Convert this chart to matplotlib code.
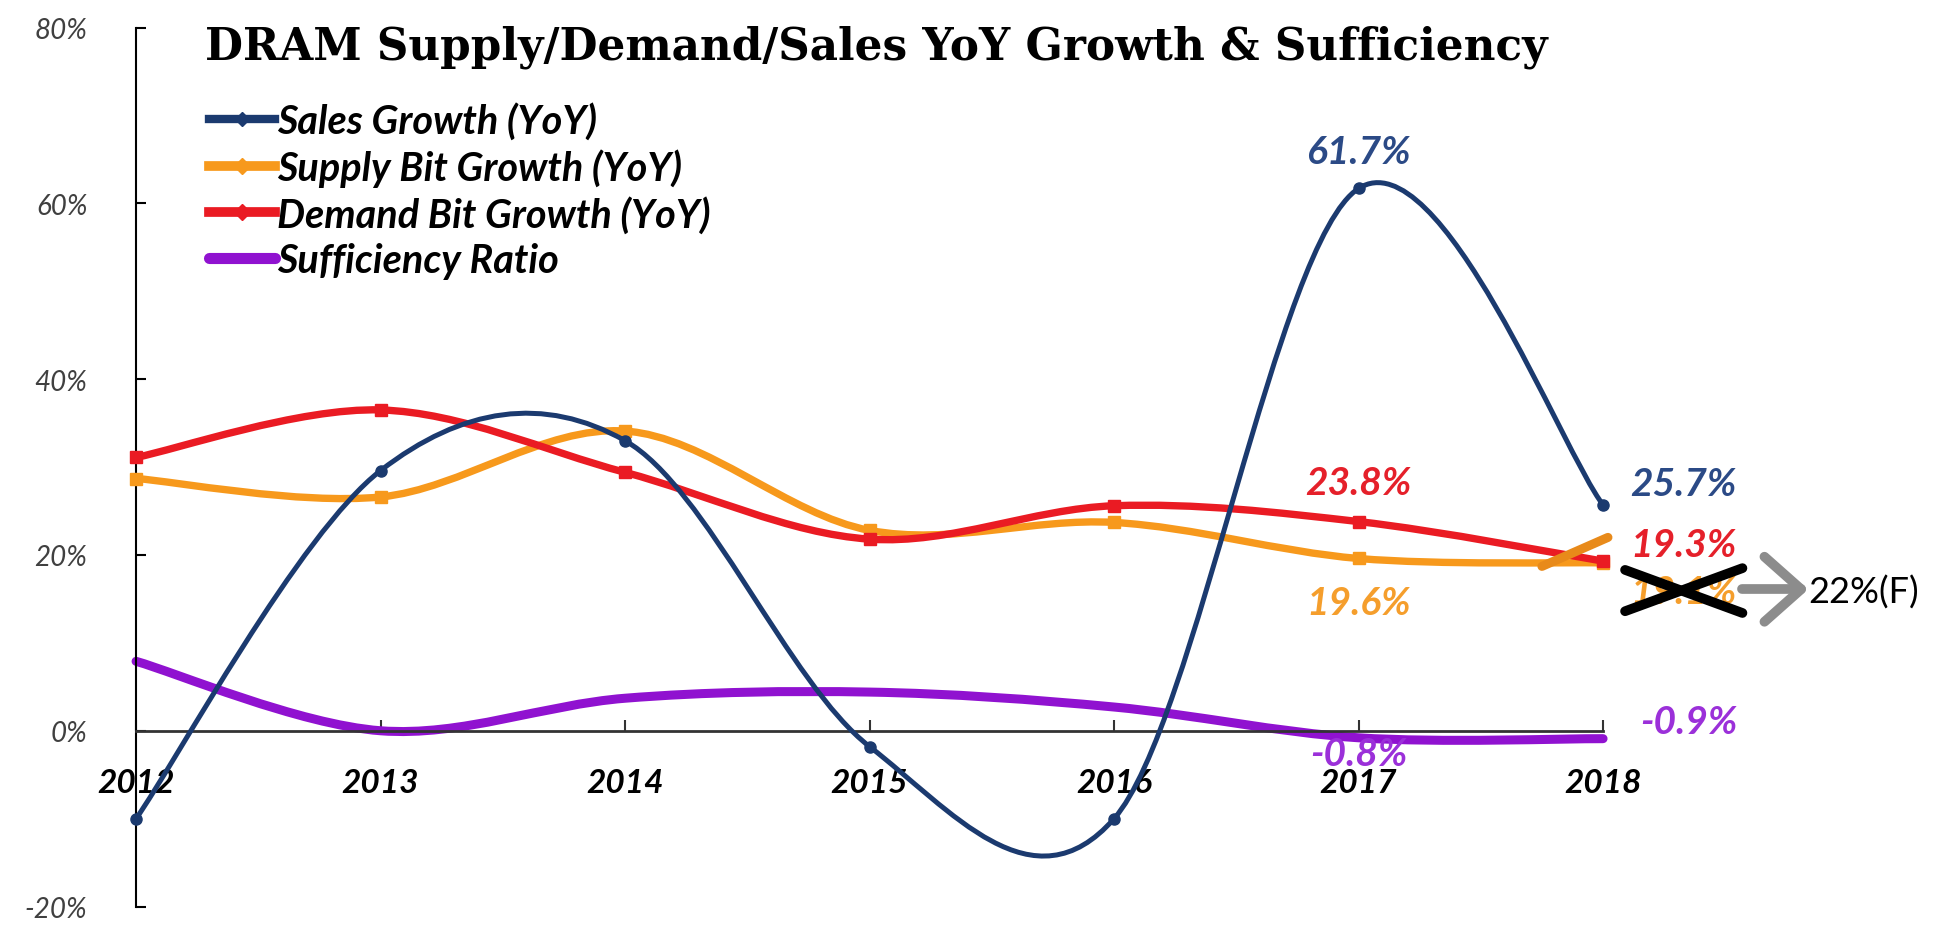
import numpy as np
import matplotlib.pyplot as plt
from matplotlib.path import Path
from matplotlib.patches import PathPatch
from matplotlib.lines import Line2D

years = [2012, 2013, 2014, 2015, 2016, 2017, 2018]
sales_growth = [-10.0, 29.6, 33.0, -1.8, -10.0, 61.7, 25.7]
supply_growth = [28.7, 26.6, 34.1, 22.8, 23.7, 19.6, 19.1]
demand_growth = [31.1, 36.5, 29.4, 21.8, 25.6, 23.8, 19.3]
sufficiency = [7.9, 0.0, 3.7, 4.4, 2.7, -0.8, -0.9]
supply_2018_forecast = 22.0
yticks = [-20, 0, 20, 40, 60, 80]

c_sales = '#1B3A6F'
c_supply = '#F7991C'
c_demand = '#EA1B23'
c_suff = '#9012D0'


def smooth_path(x, y):
    # excel-style smoothed line: bezier segments, controls at 1/6 of neighbour slope
    p = np.column_stack([x, y]).astype(float)
    n = len(p)
    verts = [p[0]]
    codes = [Path.MOVETO]
    for i in range(n - 1):
        a = p[max(i - 1, 0)]
        d = p[min(i + 2, n - 1)]
        c1 = p[i] + (p[i + 1] - a) / 6
        c2 = p[i + 1] - (d - p[i]) / 6
        verts += [c1, c2, p[i + 1]]
        codes += [Path.CURVE4] * 3
    return Path(verts, codes)


def draw_series(ax, x, y, color, lw, marker, ms, z):
    ax.add_patch(PathPatch(smooth_path(x, y), fill=False, edgecolor=color, lw=lw,
                           capstyle='round', joinstyle='round', zorder=z, clip_on=False))
    if marker:
        ax.plot(x, y, ls='none', marker=marker, ms=ms, color=color, zorder=z + 0.1, clip_on=False)


fig = plt.figure(figsize=(19.41, 9.29), dpi=100)
ax = fig.add_axes([0.0701, 0.0231, 0.7558, 0.9461])
ax.set_xlim(2012, 2018)
ax.set_ylim(-20, 80)

draw_series(ax, years, sufficiency, c_suff, 6.5, None, 0, 2)
draw_series(ax, years, supply_growth, c_supply, 5.3, 's', 9, 3)
draw_series(ax, years, demand_growth, c_demand, 5.3, 's', 9, 4)
draw_series(ax, years, sales_growth, c_sales, 3.6, 'o', 8, 5)

# hand-drawn forecast correction on supply
ax.plot([2017.75, years[-1] + 0.02], [18.7, supply_2018_forecast], color='#E88A1A',
        lw=6.5, solid_capstyle='round', zorder=4.5, clip_on=False)

for s in ['top', 'right']:
    ax.spines[s].set_visible(False)
ax.spines['bottom'].set_position(('data', 0))
ax.spines['bottom'].set_color('#333333')
ax.spines['bottom'].set_linewidth(2)
ax.spines['left'].set_linewidth(1.5)

ax.set_xticks(years)
ax.set_xticklabels([str(y) for y in years], family='Lato', weight='bold', style='italic', size=24)
ax.tick_params(axis='x', direction='in', length=8, width=1.5, pad=27, color='#333333')
ax.set_yticks(yticks)
ax.set_yticklabels([f'{v}%' for v in yticks], family='Lato', style='italic', size=20, color='#404040')
ax.tick_params(axis='y', direction='in', length=7, width=1.5, pad=35)

fig.text(876 / 1941, 1 - 47 / 929, 'DRAM Supply/Demand/Sales YoY Growth & Sufficiency',
         ha='center', va='center', family='DejaVu Serif', weight='bold', size=31.5)

handles = [
    Line2D([], [], color=c_sales, lw=6, marker='D', ms=7),
    Line2D([], [], color=c_supply, lw=7, marker='D', ms=8),
    Line2D([], [], color=c_demand, lw=7, marker='D', ms=8),
    Line2D([], [], color=c_suff, lw=8, solid_capstyle='round'),
]
labels = ['Sales Growth (YoY)', 'Supply Bit Growth (YoY)', 'Demand Bit Growth (YoY)', 'Sufficiency Ratio']
ax.legend(handles, labels, loc='upper left', bbox_to_anchor=(0.05, 0.916), frameon=False,
          borderaxespad=0, borderpad=0, handlelength=1.65, handletextpad=0.05, labelspacing=0.22,
          prop=dict(family='Lato', style='italic', weight='bold', size=28.5))

lab = dict(family='Lato', style='italic', weight='bold', size=28, ha='center', va='center')
ax.text(2017.0, 65.9, f'{sales_growth[5]}%', color='#2B4A86', **lab)
ax.text(2018.33, 28.1, f'{sales_growth[6]}%', color='#2B4A86', clip_on=False, **lab)
ax.text(2017.0, 28.3, f'{demand_growth[5]}%', color='#E5202A', **lab)
ax.text(2018.33, 21.2, f'{demand_growth[6]}%', color='#E5202A', clip_on=False, **lab)
ax.text(2017.0, 14.6, f'{supply_growth[5]}%', color='#F59E2C', **lab)
ax.text(2018.33, 15.8, f'{supply_growth[6]}%', color='#F59E2C', clip_on=False, **lab)
ax.text(2018.35, 1.0, f'{sufficiency[6]}%', color='#9B30D9', clip_on=False, **lab)
ax.text(2017.0, -2.6, f'{sufficiency[5]}%', color='#9B30D9', **lab)

# cross-out of the old supply label
ax.plot([2018.09, 2018.57], [18.3, 13.4], color='black', lw=7, solid_capstyle='round', zorder=6, clip_on=False)
ax.plot([2018.09, 2018.57], [13.6, 18.5], color='black', lw=7, solid_capstyle='round', zorder=6, clip_on=False)

# grey arrow to the forecast value
ay = 16.1
tip = 2018.81
gray = '#8C8C8C'
ax.plot([2018.57, tip], [ay, ay], color=gray, lw=7, solid_capstyle='round', clip_on=False)
ax.plot([tip - 0.15, tip, tip - 0.15], [ay + 3.7, ay, ay - 3.7], color=gray, lw=7,
        solid_capstyle='round', solid_joinstyle='round', clip_on=False)
ax.text(2018.84, 15.8, f'{supply_2018_forecast:.0f}%(F)', family='Lato', size=26, ha='left',
        va='center', color='black', clip_on=False)

fig.savefig('out.png', dpi=100)
